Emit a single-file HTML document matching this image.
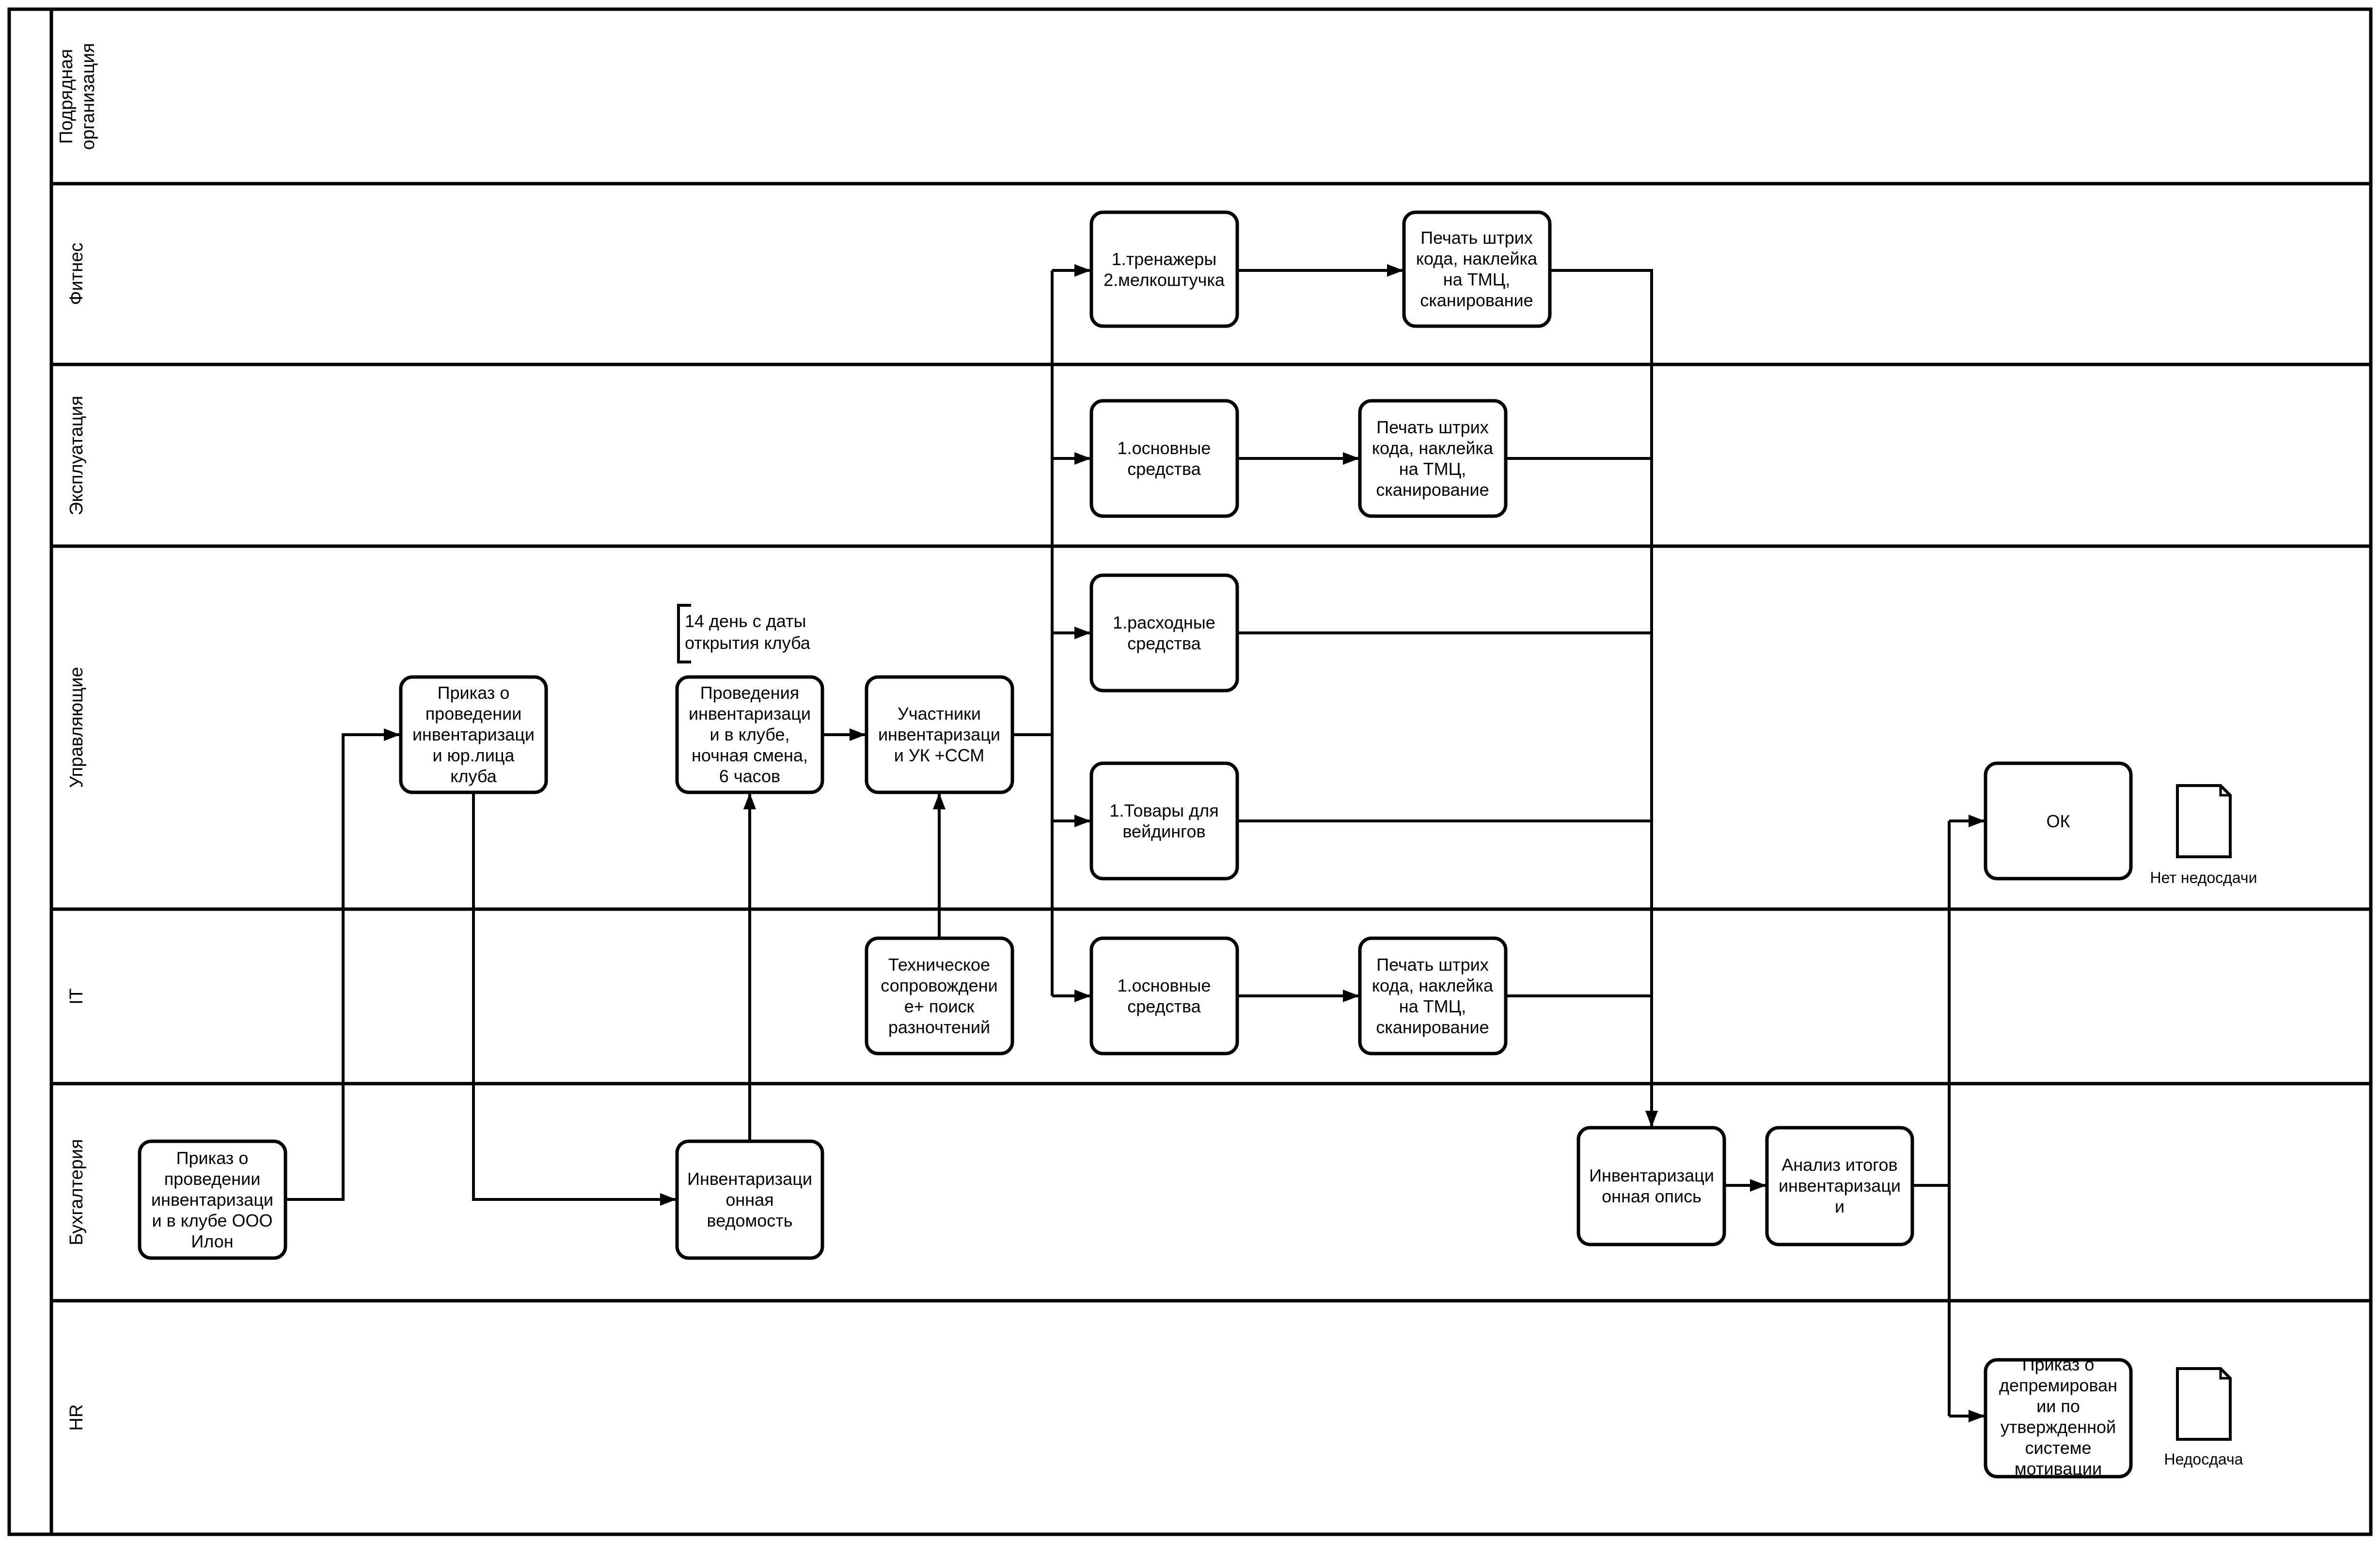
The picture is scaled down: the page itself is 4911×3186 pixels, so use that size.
<!DOCTYPE html>
<html><head><meta charset="utf-8"><style>
html,body{margin:0;padding:0;background:#fff;}
svg{display:block;}
text{font-family:"Liberation Sans",Arial,sans-serif;fill:#000;}
.b{fill:#fff;stroke:#000;stroke-width:7;}
.c{fill:none;stroke:#000;stroke-width:6;}
.t{font-size:36px;text-anchor:middle;}
.l{font-size:38px;text-anchor:middle;}
.n{font-size:32px;}
</style></head><body>
<svg width="4911" height="3186" viewBox="0 0 4911 3186" xmlns="http://www.w3.org/2000/svg">
<defs>
<marker id="a" markerUnits="userSpaceOnUse" markerWidth="34" markerHeight="26" refX="32" refY="13" orient="auto">
<path d="M0,0 L34,13 L0,26 Z" fill="#000"/>
</marker>
</defs>
<rect x="0" y="0" width="4911" height="3186" fill="#fff"/>
<rect x="19" y="19" width="4873" height="3147" fill="none" stroke="#000" stroke-width="7"/>
<line x1="106" y1="19" x2="106" y2="3166" stroke="#000" stroke-width="7"/>
<g stroke="#000" stroke-width="7">
<line x1="106" y1="379" x2="4892" y2="379"/>
<line x1="106" y1="752" x2="4892" y2="752"/>
<line x1="106" y1="1127" x2="4892" y2="1127"/>
<line x1="106" y1="1876" x2="4892" y2="1876"/>
<line x1="106" y1="2236" x2="4892" y2="2236"/>
<line x1="106" y1="2684" x2="4892" y2="2684"/>
</g>
<text class="l" transform="translate(157,199) rotate(-90)"><tspan x="0" y="-8">Подрядная</tspan><tspan x="0" y="37">организация</tspan></text>
<text class="l" transform="translate(170,565) rotate(-90)">Фитнес</text>
<text class="l" transform="translate(170,940) rotate(-90)">Эксплуатация</text>
<text class="l" transform="translate(170,1501) rotate(-90)">Управляющие</text>
<text class="l" transform="translate(170,2056) rotate(-90)">IT</text>
<text class="l" transform="translate(170,2460) rotate(-90)">Бухгалтерия</text>
<text class="l" transform="translate(170,2925) rotate(-90)">HR</text>

<g class="c">
<path d="M589,2475 H708 V1516 H824" marker-end="url(#a)"/>
<path d="M977,1635 V2475 H1394" marker-end="url(#a)"/>
<path d="M1547,2355 V1638" marker-end="url(#a)"/>
<path d="M1697,1516 H1785" marker-end="url(#a)"/>
<path d="M1938,1936 V1638" marker-end="url(#a)"/>
<path d="M2089,1516 H2171"/>
<path d="M2171,558 V2055"/>
<path d="M2171,558 H2249" marker-end="url(#a)"/>
<path d="M2171,946 H2249" marker-end="url(#a)"/>
<path d="M2171,1306 H2249" marker-end="url(#a)"/>
<path d="M2171,1694 H2249" marker-end="url(#a)"/>
<path d="M2171,2055 H2249" marker-end="url(#a)"/>
<path d="M2553,558 H2894" marker-end="url(#a)"/>
<path d="M2553,946 H2803" marker-end="url(#a)"/>
<path d="M2553,2055 H2803" marker-end="url(#a)"/>
<path d="M3198,558 H3408 V2324" marker-end="url(#a)"/>
<path d="M3107,946 H3408"/>
<path d="M2553,1306 H3408"/>
<path d="M2553,1694 H3408"/>
<path d="M3107,2055 H3408"/>
<path d="M3558,2446 H3643" marker-end="url(#a)"/>
<path d="M3946,2446 H4022"/>
<path d="M4022,1694 V2922"/>
<path d="M4022,1694 H4094" marker-end="url(#a)"/>
<path d="M4022,2922 H4094" marker-end="url(#a)"/>
</g>

<path d="M1426,1249 H1400 V1366 H1426" fill="none" stroke="#000" stroke-width="6"/>
<text x="1413" y="1294" style="font-size:36px">14 день с даты</text>
<text x="1413" y="1339" style="font-size:36px">открытия клуба</text>

<g>
<rect class="b" x="2252" y="438" width="301" height="235" rx="24"/>
<text class="t" x="2402" y="547"><tspan x="2402">1.тренажеры</tspan><tspan x="2402" dy="43">2.мелкоштучка</tspan></text>
<rect class="b" x="2897" y="438" width="301" height="235" rx="24"/>
<text class="t" y="503"><tspan x="3047">Печать штрих</tspan><tspan x="3047" dy="43">кода, наклейка</tspan><tspan x="3047" dy="43">на ТМЦ,</tspan><tspan x="3047" dy="43">сканирование</tspan></text>

<rect class="b" x="2252" y="827" width="301" height="238" rx="24"/>
<text class="t" y="937"><tspan x="2402">1.основные</tspan><tspan x="2402" dy="43">средства</tspan></text>
<rect class="b" x="2806" y="827" width="301" height="238" rx="24"/>
<text class="t" y="894"><tspan x="2956">Печать штрих</tspan><tspan x="2956" dy="43">кода, наклейка</tspan><tspan x="2956" dy="43">на ТМЦ,</tspan><tspan x="2956" dy="43">сканирование</tspan></text>

<rect class="b" x="2252" y="1187" width="301" height="238" rx="24"/>
<text class="t" y="1297"><tspan x="2402">1.расходные</tspan><tspan x="2402" dy="43">средства</tspan></text>

<rect class="b" x="2252" y="1575" width="301" height="238" rx="24"/>
<text class="t" y="1685"><tspan x="2402">1.Товары для</tspan><tspan x="2402" dy="43">вейдингов</tspan></text>

<rect class="b" x="827" y="1397" width="300" height="238" rx="24"/>
<text class="t" y="1442"><tspan x="977">Приказ о</tspan><tspan x="977" dy="43">проведении</tspan><tspan x="977" dy="43">инвентаризаци</tspan><tspan x="977" dy="43">и юр.лица</tspan><tspan x="977" dy="43">клуба</tspan></text>

<rect class="b" x="1397" y="1397" width="300" height="238" rx="24"/>
<text class="t" y="1442"><tspan x="1547">Проведения</tspan><tspan x="1547" dy="43">инвентаризаци</tspan><tspan x="1547" dy="43">и в клубе,</tspan><tspan x="1547" dy="43">ночная смена,</tspan><tspan x="1547" dy="43">6 часов</tspan></text>

<rect class="b" x="1788" y="1397" width="301" height="238" rx="24"/>
<text class="t" y="1485"><tspan x="1938">Участники</tspan><tspan x="1938" dy="43">инвентаризаци</tspan><tspan x="1938" dy="43">и УК +ССМ</tspan></text>

<rect class="b" x="4097" y="1575" width="300" height="238" rx="24"/>
<text class="t" x="4247" y="1707">ОК</text>

<rect class="b" x="1788" y="1936" width="301" height="238" rx="24"/>
<text class="t" y="2003"><tspan x="1938">Техническое</tspan><tspan x="1938" dy="43">сопровождени</tspan><tspan x="1938" dy="43">е+ поиск</tspan><tspan x="1938" dy="43">разночтений</tspan></text>

<rect class="b" x="2252" y="1936" width="301" height="238" rx="24"/>
<text class="t" y="2046"><tspan x="2402">1.основные</tspan><tspan x="2402" dy="43">средства</tspan></text>
<rect class="b" x="2806" y="1936" width="301" height="238" rx="24"/>
<text class="t" y="2003"><tspan x="2956">Печать штрих</tspan><tspan x="2956" dy="43">кода, наклейка</tspan><tspan x="2956" dy="43">на ТМЦ,</tspan><tspan x="2956" dy="43">сканирование</tspan></text>

<rect class="b" x="288" y="2355" width="301" height="241" rx="24"/>
<text class="t" y="2402"><tspan x="438">Приказ о</tspan><tspan x="438" dy="43">проведении</tspan><tspan x="438" dy="43">инвентаризаци</tspan><tspan x="438" dy="43">и в клубе ООО</tspan><tspan x="438" dy="43">Илон</tspan></text>

<rect class="b" x="1397" y="2355" width="300" height="241" rx="24"/>
<text class="t" y="2445"><tspan x="1547">Инвентаризаци</tspan><tspan x="1547" dy="43">онная</tspan><tspan x="1547" dy="43">ведомость</tspan></text>

<rect class="b" x="3257" y="2327" width="301" height="241" rx="24"/>
<text class="t" y="2438"><tspan x="3408">Инвентаризаци</tspan><tspan x="3408" dy="43">онная опись</tspan></text>

<rect class="b" x="3646" y="2327" width="300" height="241" rx="24"/>
<text class="t" y="2416"><tspan x="3796">Анализ итогов</tspan><tspan x="3796" dy="43">инвентаризаци</tspan><tspan x="3796" dy="43">и</tspan></text>

<rect class="b" x="4097" y="2806" width="300" height="241" rx="24"/>
<text class="t" y="2828"><tspan x="4247">Приказ о</tspan><tspan x="4247" dy="43">депремирован</tspan><tspan x="4247" dy="43">ии по</tspan><tspan x="4247" dy="43">утвержденной</tspan><tspan x="4247" dy="43">системе</tspan><tspan x="4247" dy="43">мотивации</tspan></text>
</g>

<path d="M4493,1621 H4582 L4602,1641 V1768 H4493 Z" fill="#fff" stroke="#000" stroke-width="6"/>
<path d="M4582,1621 V1641 H4602" fill="none" stroke="#000" stroke-width="5"/>
<text class="n" x="4547" y="1822" text-anchor="middle">Нет недосдачи</text>

<path d="M4493,2824 H4582 L4602,2844 V2970 H4493 Z" fill="#fff" stroke="#000" stroke-width="6"/>
<path d="M4582,2824 V2844 H4602" fill="none" stroke="#000" stroke-width="5"/>
<text class="n" x="4547" y="3022" text-anchor="middle">Недосдача</text>
</svg>
</body></html>
